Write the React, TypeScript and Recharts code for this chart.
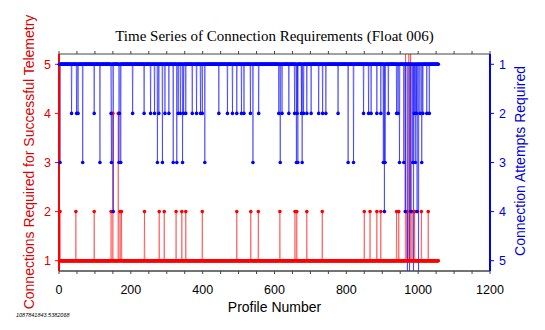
import { LineChart, Line, XAxis, YAxis } from 'recharts';

const RED = '#ff0000';
const BLUE = '#0000ff';
const SANS = 'Liberation Sans, Arial, Helvetica, sans-serif';

// profiles 1..lastProfile; anything not listed below needed exactly 1
const lastProfile = 1056;

// connections required for successful telemetry (left axis)
const connTwo = [
  3, 47, 98, 145, 170, 174, 238, 279, 293, 326, 342, 353, 399, 495, 534, 555,
  615, 657, 662, 690, 733, 850, 866, 885, 896, 940, 946, 969, 983, 990, 1009, 1028,
];
const connFour = [150, 165];
const connOffScale = [965, 974, 979]; // runs off the top of the plot

// connection attempts required (right axis, reversed)
const attemptsTwo = [
  35, 49, 53, 98, 145, 168, 205, 237, 255, 266, 278, 295, 306, 332, 338, 347,
  353, 371, 383, 394, 399, 445, 469, 483, 495, 508, 515, 533, 556, 612, 621, 640,
  656, 663, 675, 681, 690, 702, 723, 734, 743, 777, 848, 862, 869, 885, 896, 917,
  940, 944, 989, 995, 1005, 1013, 1024, 1031,
];
const attemptsThree = [
  3, 66, 114, 146, 167, 172, 274, 288, 318, 328, 344, 406, 540, 616, 661, 665,
  677, 805, 820, 903, 908, 948, 960, 985, 992, 1010,
];
const attemptsFour = [151, 906, 964, 980, 997];
const attemptsOffScale = [970, 976, 987, 1001]; // runs off the bottom

const xTicks = [
  0, 50, 100, 150, 200, 250, 300, 350, 400, 450, 500, 550, 600, 650, 700, 750,
  800, 850, 900, 950, 1000, 1050, 1100, 1150, 1200,
];
const levelTicks = [1, 2, 3, 4, 5];

function toLevels(groups: [number, number[]][]) {
  const m = new Map<number, number>();
  groups.forEach(([level, profiles]) => profiles.forEach((p) => m.set(p, level)));
  return m;
}

const connLevels = toLevels([[2, connTwo], [4, connFour], [6, connOffScale]]);
const attemptLevels = toLevels([
  [2, attemptsTwo],
  [3, attemptsThree],
  [4, attemptsFour],
  [6, attemptsOffScale],
]);

const data = Array.from({ length: lastProfile }, (_, i) => ({
  profile: i + 1,
  connections: connLevels.get(i + 1) ?? 1,
  attempts: attemptLevels.get(i + 1) ?? 1,
}));

export default function App() {
  return (
    <div style={{ position: 'absolute', left: 0, top: 0, width: 545, height: 330, background: '#fff' }}>
      <LineChart width={545} height={330} data={data} margin={{ top: 50, right: 0, bottom: 29, left: 0 }}>
        <XAxis
          xAxisId="top"
          orientation="top"
          dataKey="profile"
          type="number"
          domain={[0, 1200]}
          ticks={xTicks}
          interval={0}
          tickFormatter={() => ''}
          tickSize={3}
          height={4}
          stroke="#444"
        />
        <XAxis
          xAxisId="bottom"
          dataKey="profile"
          type="number"
          domain={[0, 1200]}
          ticks={xTicks}
          interval={0}
          tickFormatter={(v: number) => (v % 200 === 0 ? String(v) : '')}
          tickSize={3}
          tickMargin={11}
          height={30}
          stroke="#444"
          axisLine={{ stroke: '#444', strokeWidth: 1.5 }}
          tick={{ fill: '#000', fontSize: 12.5, fontFamily: SANS }}
        />
        <YAxis
          yAxisId="conn"
          orientation="left"
          width={59}
          domain={[0.79, 5.21]}
          allowDataOverflow
          ticks={levelTicks}
          interval={0}
          tickSize={4}
          tickMargin={4}
          stroke={RED}
          axisLine={{ stroke: RED, strokeWidth: 2 }}
          tick={{ fill: '#e00000', fontSize: 12.5, fontFamily: SANS }}
        />
        <YAxis
          yAxisId="att"
          orientation="right"
          width={55}
          reversed
          domain={[0.79, 5.21]}
          allowDataOverflow
          ticks={levelTicks}
          interval={0}
          tickSize={4}
          tickMargin={5}
          stroke={BLUE}
          axisLine={{ stroke: BLUE, strokeWidth: 2 }}
          tick={{ fill: '#0000dd', fontSize: 12.5, fontFamily: SANS }}
        />
        <Line
          xAxisId="bottom"
          yAxisId="conn"
          type="linear"
          dataKey="connections"
          stroke={RED}
          strokeOpacity={0.45}
          strokeWidth={1}
          dot={{ r: 1.8, fill: RED, stroke: 'none' }}
          activeDot={false}
          isAnimationActive={false}
        />
        <Line
          xAxisId="bottom"
          yAxisId="att"
          type="linear"
          dataKey="attempts"
          stroke={BLUE}
          strokeOpacity={0.5}
          strokeWidth={1}
          dot={{ r: 1.8, fill: BLUE, stroke: 'none' }}
          activeDot={false}
          isAnimationActive={false}
        />
        <text x={274.5} y={41} textAnchor="middle" fontSize={15} fontFamily="Liberation Serif, Times New Roman, serif" fill="#000">
          Time Series of Connection Requirements (Float 006)
        </text>
        <text x={274.5} y={312} textAnchor="middle" fontSize={14} fontFamily={SANS} fill="#000">
          Profile Number
        </text>
        <text transform="translate(34,162) rotate(-90)" textAnchor="middle" fontSize={14} fontFamily={SANS} fill="#e00000">
          Connections Required for Successful Telemetry
        </text>
        <text transform="translate(525,161) rotate(-90)" textAnchor="middle" fontSize={14} fontFamily={SANS} fill="#0000dd">
          Connection Attempts Required
        </text>
        <text x={16} y={317} fontSize={5.5} fontStyle="italic" fontFamily={SANS} fill="#000">
          1087841843.5382068
        </text>
      </LineChart>
    </div>
  );
}
